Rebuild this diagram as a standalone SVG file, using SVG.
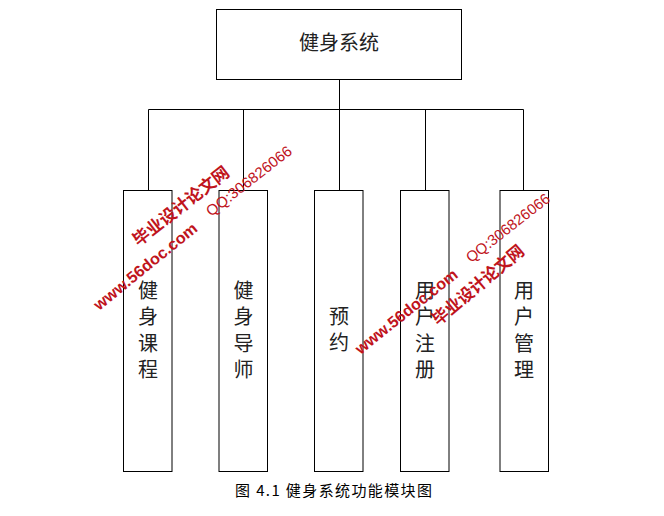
<svg xmlns="http://www.w3.org/2000/svg" width="664" height="516" viewBox="0 0 664 516">
<style>
.box{fill:#fff;stroke:#000;stroke-width:1}
.ln{fill:none;stroke:#000;stroke-width:1}
.t{font-family:"Noto Sans CJK SC","Liberation Serif",serif;font-size:20px;fill:#222;text-anchor:middle}
.cap{font-family:"Noto Sans CJK SC","Liberation Serif",serif;font-size:15px;fill:#000}
.wm{fill:#c0141c;text-anchor:middle;font-family:"Liberation Sans","Noto Sans CJK SC",sans-serif}
.wb{font-weight:bold}
</style>
<rect width="664" height="516" fill="#fff"/>
<g id="connectors">
<path class="ln" d="M339.5 80V109.5M148.5 109.5H523.5M148.5 109.5V190.5M243.5 109.5V190.5M339.5 109.5V190.5M425.5 109.5V190.5M523.5 109.5V190.5"/>
</g>
<g id="root">
<rect class="box" x="216.5" y="9.5" width="245" height="70"/>
<text class="t" x="339" y="50" font-size="21">健身系统</text>
</g>
<g id="n1">
<rect class="box" x="123.5" y="190.5" width="48.5" height="281"/>
<text class="t" x="148" y="297.5">健<tspan x="148" dy="26.5">身</tspan><tspan x="148" dy="26.5">课</tspan><tspan x="148" dy="26.5">程</tspan></text>
</g>
<g id="n2">
<rect class="box" x="219" y="190.5" width="48.5" height="281"/>
<text class="t" x="243.5" y="297.5">健<tspan x="243.5" dy="26.5">身</tspan><tspan x="243.5" dy="26.5">导</tspan><tspan x="243.5" dy="26.5">师</tspan></text>
</g>
<g id="n3">
<rect class="box" x="314.5" y="190.5" width="48.5" height="281"/>
<text class="t" x="339" y="323.5">预<tspan x="339" dy="26.5">约</tspan></text>
</g>
<g id="n4">
<rect class="box" x="400.5" y="190.5" width="48.5" height="281"/>
<text class="t" x="425" y="297.5">用<tspan x="425" dy="26.5">户</tspan><tspan x="425" dy="26.5">注</tspan><tspan x="425" dy="26.5">册</tspan></text>
</g>
<g id="n5">
<rect class="box" x="500" y="190.5" width="48.5" height="281"/>
<text class="t" x="524" y="297.5">用<tspan x="524" dy="26.5">户</tspan><tspan x="524" dy="26.5">管</tspan><tspan x="524" dy="26.5">理</tspan></text>
</g>
<text class="cap" x="235" y="496" textLength="197" lengthAdjust="spacing">图 4.1 健身系统功能模块图</text>
<g id="watermark">
<text class="wm wb" font-size="17" transform="translate(181 206) rotate(-38)" y="6" textLength="117" lengthAdjust="spacingAndGlyphs">毕业设计论文网</text>
<text class="wm" font-size="15" transform="translate(249 181) rotate(-38)" y="5" textLength="104" lengthAdjust="spacingAndGlyphs">QQ:306826066</text>
<text class="wm wb" font-size="16" transform="translate(145 266) rotate(-39)" y="6" textLength="128" lengthAdjust="spacingAndGlyphs">www.56doc.com</text>
<text class="wm wb" font-size="16" transform="translate(406 311) rotate(-38.5)" y="6" textLength="126" lengthAdjust="spacingAndGlyphs">www.56doc.com</text>
<text class="wm" font-size="15" transform="translate(508 228) rotate(-38)" y="5" textLength="102" lengthAdjust="spacingAndGlyphs">QQ:306826066</text>
<text class="wm wb" font-size="17" transform="translate(478 285) rotate(-40)" y="6" textLength="114" lengthAdjust="spacingAndGlyphs">毕业设计论文网</text>
</g>
</svg>
